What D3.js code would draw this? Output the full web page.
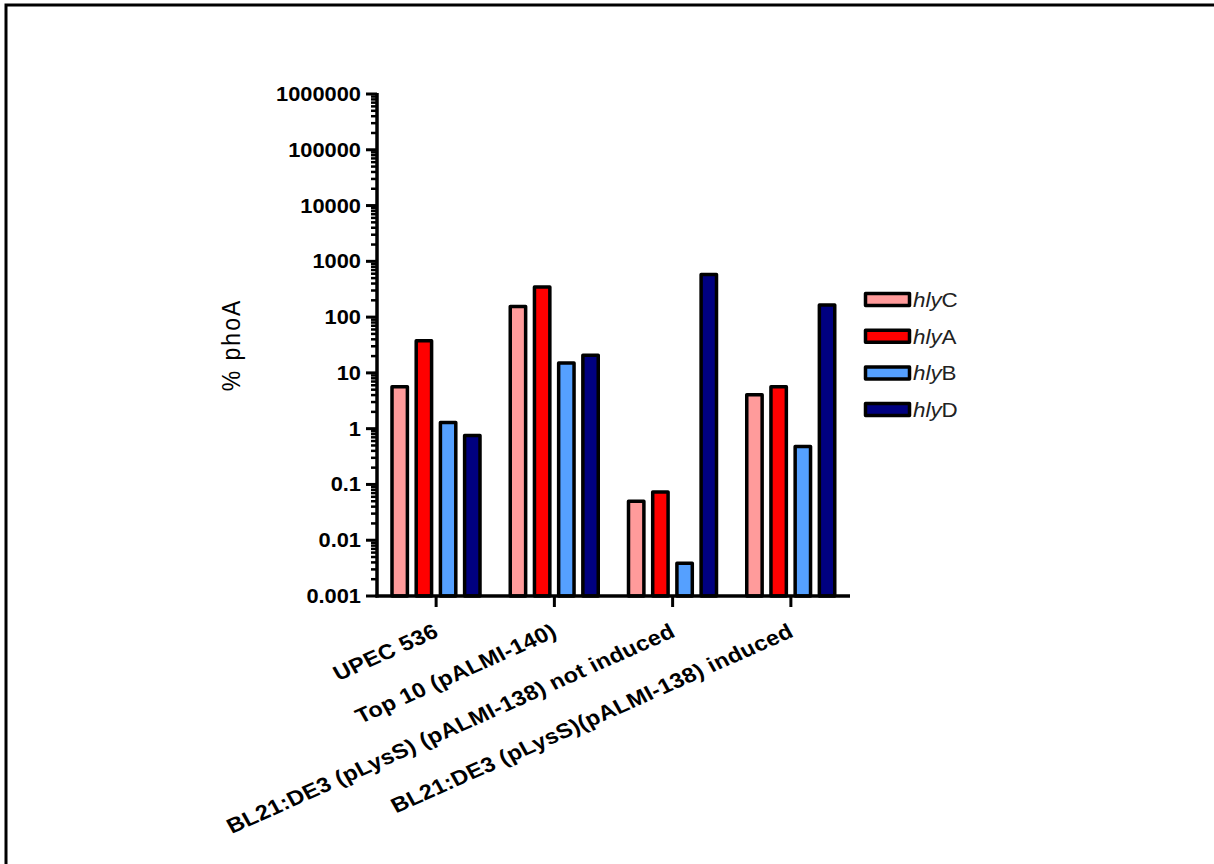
<!DOCTYPE html>
<html>
<head>
<meta charset="utf-8">
<script src="https://cdn.jsdelivr.net/npm/d3@7"></script>
<style>
  body { margin: 0; background: #fff; }
  svg { display: block; font-family: Arial, "Liberation Sans", sans-serif; }
</style>
</head>
<body>
<div id="container"></div>
<script>
// data (% phoA, log scale)
const groups = [
  "UPEC 536",
  "Top 10 (pALMI-140)",
  "BL21:DE3 (pLysS) (pALMI-138) not induced",
  "BL21:DE3 (pLysS)(pALMI-138) induced"
];
const genes = ["C", "A", "B", "D"];
const hlyC = [6.0, 165, 0.053, 4.3];
const hlyA = [40, 370, 0.078, 6.0];
const hlyB = [1.37, 16, 0.0041, 0.51];
const hlyD = [0.80, 22, 620, 175];
const colors = ["#ff9b9b", "#ff0000", "#55a0ff", "#000080"];
const yTicks = [0.001, 0.01, 0.1, 1, 10, 100, 1000, 10000, 100000, 1000000];

const series = [hlyC, hlyA, hlyB, hlyD];

const w = 1214;
const h = 864;
const sx = 1.12; // the original figure is a bit stretched sideways

const svg = d3.select("#container")
  .append("svg")
  .attr("width", w)
  .attr("height", h);

svg.append("rect").attr("width", w).attr("height", h).attr("fill", "#fff");

// frame (left + top only)
svg.append("path")
  .attr("d", "M6," + h + "V5H" + w)
  .attr("fill", "none")
  .attr("stroke", "#000")
  .attr("stroke-width", 3);

const x0 = 377, x1 = 850, yTop = 94, yBot = 596;

const xScale = d3.scaleBand()
  .domain(groups)
  .range([x0, x1]);

const xInner = d3.scaleBand()
  .domain(genes)
  .range([13.5, 104.5])
  .paddingInner(0.24);

const yScale = d3.scaleLog()
  .domain([0.001, 1000000])
  .range([yBot, yTop]);

// bars
series.forEach((vals, si) => {
  svg.append("g")
    .selectAll("rect")
    .data(vals)
    .enter()
    .append("rect")
    .attr("x", (d, i) => xScale(groups[i]) + xInner(genes[si]) + 1.5)
    .attr("y", d => yScale(d) + 1.5)
    .attr("width", xInner.bandwidth() - 3)
    .attr("height", d => yBot - yScale(d) - 1.5)
    .attr("fill", colors[si])
    .attr("stroke", "#000")
    .attr("stroke-width", 3.5)
    .attr("stroke-linejoin", "round");
});

// y axis with log minor ticks
const minor = [];
for (let e = -3; e < 6; e++) {
  for (let k = 2; k <= 9; k++) minor.push(k * Math.pow(10, e));
}
const yAxis = svg.append("g")
  .attr("transform", "translate(" + x0 + ",0)");

yAxis.append("line")
  .attr("y1", yTop - 1).attr("y2", yBot + 1.5)
  .attr("stroke", "#000").attr("stroke-width", 3.5);

yAxis.selectAll("line.minor")
  .data(minor)
  .enter()
  .append("line")
  .attr("class", "minor")
  .attr("x1", -6).attr("x2", 0)
  .attr("y1", d => yScale(d)).attr("y2", d => yScale(d))
  .attr("stroke", "#000").attr("stroke-width", 2.5);

yAxis.selectAll("line.major")
  .data(yTicks)
  .enter()
  .append("line")
  .attr("class", "major")
  .attr("x1", -11).attr("x2", 0)
  .attr("y1", d => yScale(d)).attr("y2", d => yScale(d))
  .attr("stroke", "#000").attr("stroke-width", 3);

yAxis.selectAll("text")
  .data(yTicks)
  .enter()
  .append("text")
  .attr("transform", d => "translate(-16," + yScale(d) + ") scale(" + sx + ",1)")
  .attr("dy", "0.36em")
  .attr("text-anchor", "end")
  .attr("font-size", 19.5)
  .attr("font-weight", "bold")
  .text(d => d >= 1 ? d3.format("d")(d) : String(d));

// x axis
const xAxis = svg.append("g");
xAxis.append("line")
  .attr("x1", x0 - 1.5).attr("x2", x1)
  .attr("y1", yBot).attr("y2", yBot)
  .attr("stroke", "#000").attr("stroke-width", 3.5);

xAxis.selectAll("line.tick")
  .data(groups)
  .enter()
  .append("line")
  .attr("class", "tick")
  .attr("x1", d => xScale(d) + xScale.bandwidth() / 2)
  .attr("x2", d => xScale(d) + xScale.bandwidth() / 2)
  .attr("y1", yBot).attr("y2", yBot + 11)
  .attr("stroke", "#000").attr("stroke-width", 3);

xAxis.selectAll("text")
  .data(groups)
  .enter()
  .append("text")
  .attr("transform", d => "translate(" + (xScale(d) + xScale.bandwidth() / 2 + 4) + "," + (yBot + 40) + ") scale(" + sx + ",1) rotate(-26.5)")
  .attr("text-anchor", "end")
  .attr("font-size", 21)
  .attr("font-weight", "bold")
  .attr("letter-spacing", 0.3)
  .text(d => d);

// y title
const yTitle = svg.append("text")
  .attr("transform", "translate(240,345) scale(" + sx + ",1) rotate(-90)")
  .attr("text-anchor", "middle")
  .attr("font-size", 23)
  .attr("letter-spacing", 2);
yTitle.append("tspan").text("% ");
yTitle.append("tspan").text("phoA");

// legend
const legend = svg.append("g")
  .selectAll("g")
  .data(genes)
  .enter()
  .append("g")
  .attr("transform", (d, i) => "translate(864," + (292 + i * 36.7) + ")");

legend.append("rect")
  .attr("x", 1.5).attr("y", 1.5)
  .attr("width", 44).attr("height", 12)
  .attr("fill", (d, i) => colors[i])
  .attr("stroke", "#000")
  .attr("stroke-width", 3.5)
  .attr("stroke-linejoin", "round");

const lt = legend.append("text")
  .attr("transform", "translate(49,15) scale(" + sx + ",1)")
  .attr("font-size", 20)
  .attr("fill", "#222");
lt.append("tspan").attr("font-style", "italic").text("hly");
lt.append("tspan").text(d => d);
</script>
</body>
</html>
